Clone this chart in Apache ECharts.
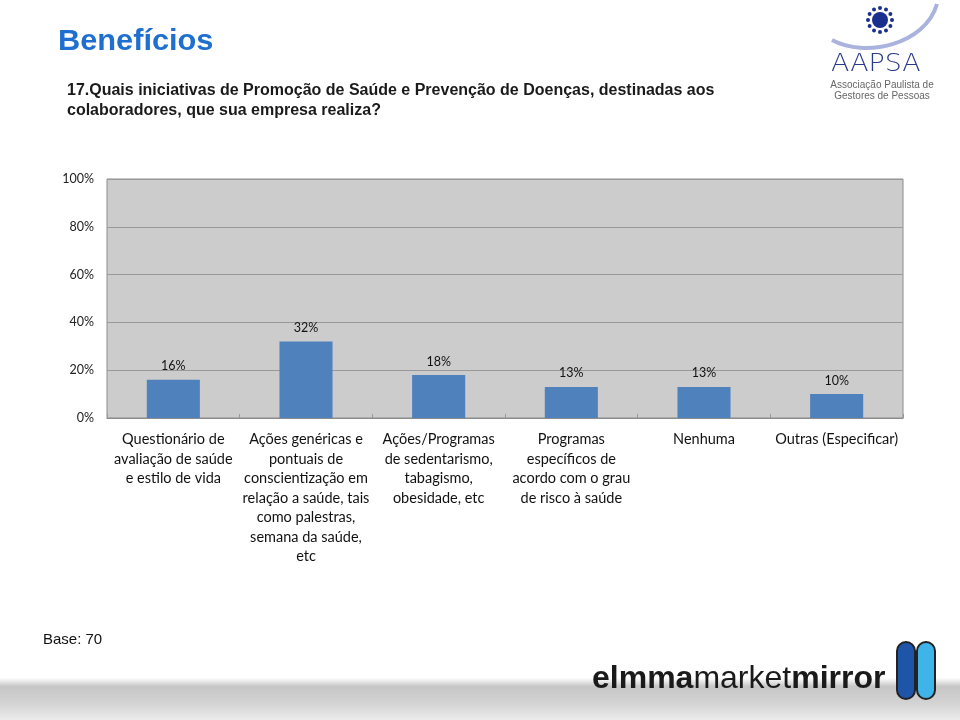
<!DOCTYPE html>
<html><head><meta charset="utf-8">
<script src="https://cdn.jsdelivr.net/npm/echarts@6/dist/echarts.min.js"></script>
<style>html,body{margin:0;padding:0;background:#fff}#c{width:960px;height:720px}</style>
</head><body><div id="c"></div>
<script>
const categories = [
  "Questionário de\navaliação de saúde\ne estilo de vida",
  "Ações genéricas e\npontuais de\nconscientização em\nrelação a saúde, tais\ncomo palestras,\nsemana da saúde,\netc",
  "Ações/Programas\nde sedentarismo,\ntabagismo,\nobesidade, etc",
  "Programas\nespecíficos de\nacordo com o grau\nde risco à saúde",
  "Nenhuma",
  "Outras (Especificar)"
];
const values = [16, 32, 18, 13, 13, 10];
const yTicks = [0, 20, 40, 60, 80, 100];

const chart = echarts.init(document.getElementById('c'));
const rays = [];
for (let i = 0; i < 12; i++) {
  const a = i * Math.PI / 6;
  rays.push({type:'circle', shape:{cx:880+Math.cos(a)*12, cy:20+Math.sin(a)*12, r:2}, style:{fill:'#1b2f8f'}});
}
chart.setOption({
  backgroundColor: '#ffffff',
  animation: false,
  grid: {left: 107, right: 57, top: 179, bottom: 302, backgroundColor: '#cccccc', show: true, borderColor: '#8c8c8c', borderWidth: 1},
  xAxis: {
    type: 'category', data: categories,
    axisLine: {show: true, lineStyle: {color: '#8c8c8c'}},
    axisTick: {show: true, alignWithLabel: false, length: -4, lineStyle: {color: '#999'}},
    axisLabel: {interval: 0, color: '#111', fontFamily: 'Lato, "Open Sans", sans-serif', fontSize: 14.5, lineHeight: 19.5, margin: 12}
  },
  yAxis: {
    type: 'value', min: 0, max: 100, interval: 20,
    axisLine: {show: false}, axisTick: {show: false},
    splitLine: {lineStyle: {color: '#999999', width: 1}},
    axisLabel: {formatter: v => yTicks.includes(v) ? v + '%' : '', color: '#222', fontFamily: 'Lato, "Open Sans", sans-serif', fontSize: 12.5, margin: 13}
  },
  series: [{
    type: 'bar', data: values, barWidth: '40%',
    itemStyle: {color: '#4f81bd'},
    label: {show: true, position: 'top', distance: 7, formatter: '{c}%', color: '#111', fontFamily: 'Lato, "Open Sans", sans-serif', fontSize: 12.5}
  }],
  graphic: [
    {type:'rect', shape:{x:0, y:678, width:960, height:42}, silent:true, z:-10,
     style:{fill:{type:'linear', x:0, y:0, x2:0, y2:1, colorStops:[{offset:0,color:'#ffffff'},{offset:0.2,color:'#c6c6c6'},{offset:0.6,color:'#d3d3d3'},{offset:1,color:'#ececec'}]}}},
    {type:'text', x:58, y:27, scaleX:1.06, style:{text:'Benefícios', fontSize:29, fontWeight:'bold', fill:'#1e6fd0', fontFamily:'"Liberation Sans", Arial, sans-serif', verticalAlign:'top'}},
    {type:'text', x:67, y:81, style:{text:'17.Quais iniciativas de Promoção de Saúde e Prevenção de Doenças, destinadas aos\ncolaboradores, que sua empresa realiza?', fontSize:16, lineHeight:19.5, fontWeight:'bold', fill:'#1a1a1a', fontFamily:'"Liberation Sans", Arial, sans-serif', verticalAlign:'top'}},
    {type:'text', x:43, y:632, style:{text:'Base: 70', fontSize:15, fill:'#111', fontFamily:'"Liberation Sans", Arial, sans-serif', verticalAlign:'top'}},
    // AAPSA logo
    {type:'circle', shape:{cx:880, cy:20, r:8}, style:{fill:'#1b2f8f'}},
    ...rays,
    {type:'bezierCurve', shape:{x1:832, y1:40, x2:937, y2:4, cpx1:865, cpy1:58, cpx2:925, cpy2:45}, style:{stroke:'#aab3dd', lineWidth:4, fill:null}},
    {type:'text', x:831, y:53, scaleX:1.12, style:{text:'AAPSA', fontSize:24, fill:'#2a3a8a', fontFamily:'"DejaVu Sans", sans-serif', fontWeight:200, verticalAlign:'top'}},
    {type:'text', x:882, y:80, style:{text:'Associação Paulista de\nGestores de Pessoas', align:'center', verticalAlign:'top', fontSize:10, lineHeight:11, fill:'#666', fontFamily:'"Liberation Sans", sans-serif'}},
    // elmma logo
    {type:'text', x:592, y:663, style:{verticalAlign:'top', rich:{a:{fontSize:32, fontWeight:'bold', fill:'#1a1a1a', fontFamily:'"Liberation Sans", sans-serif'}, b:{fontSize:32, fontWeight:'normal', fill:'#1a1a1a', fontFamily:'"Liberation Sans", sans-serif'}}, text:'{a|elmma}{b|market}{a|mirror}'}},
    {type:'rect', shape:{x:897, y:642, width:18, height:57, r:9}, style:{fill:'#1e55a8', stroke:'#222', lineWidth:2}},
    {type:'rect', shape:{x:917, y:642, width:18, height:57, r:9}, style:{fill:'#3fb4e8', stroke:'#222', lineWidth:2}}
  ]
});
</script></body></html>
